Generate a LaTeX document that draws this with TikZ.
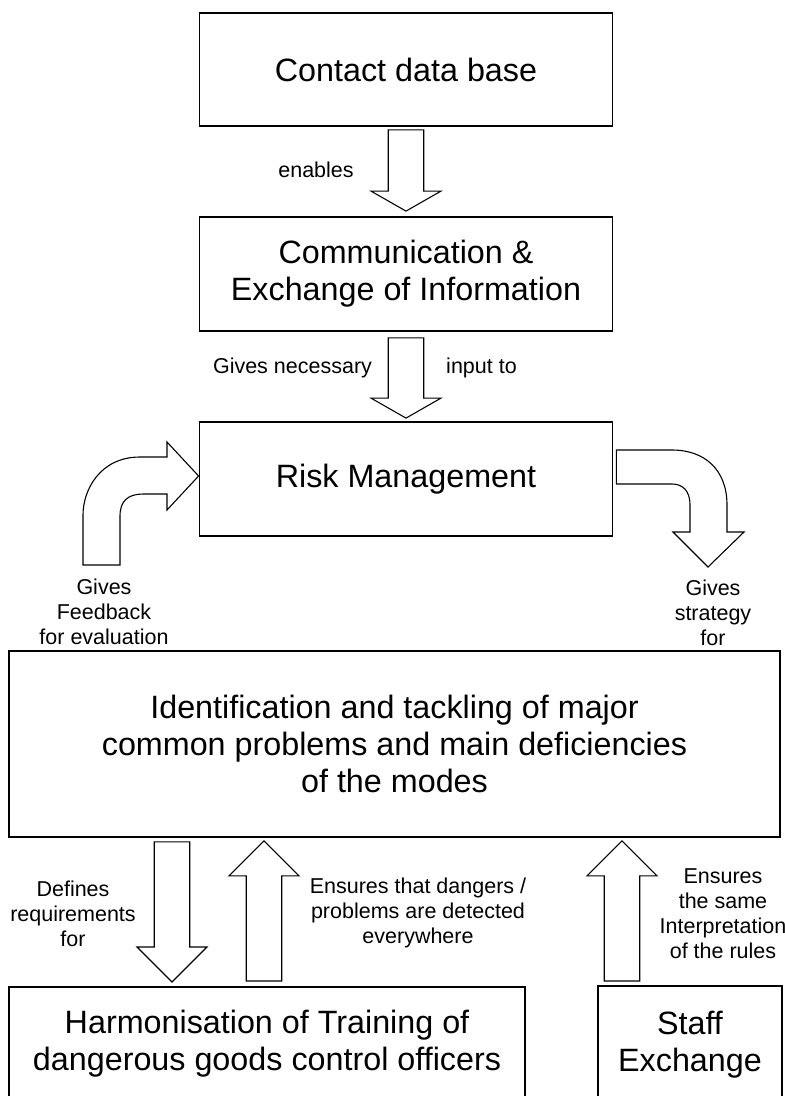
\documentclass[tikz,border=0pt]{standalone}
\usepackage{fontspec}
\setmainfont{Liberation Sans}
\usetikzlibrary{calc}
\tikzset{
  box/.style={draw, line width=1.8pt, align=center, font=\fontsize{32.3}{37}\selectfont},
  lbl/.style={align=center, inner sep=0pt, font=\fontsize{21.5}{25}\selectfont},
  fatline/.style={draw, line width=1.1pt, line join=miter},
}
% hollow block arrow: from, tip, signed head length
\newcommand{\fatarrow}[3]{%
  \draw[fatline] let \p1=(#1), \p2=(#2) in
    ({\x1-17.75pt},\y1) -- ({\x1-17.75pt},{\y2+(#3pt)}) -- ({\x1-35pt},{\y2+(#3pt)}) -- (\x1,\y2)
    -- ({\x1+35pt},{\y2+(#3pt)}) -- ({\x1+17.75pt},{\y2+(#3pt)}) -- ({\x1+17.75pt},\y1) -- cycle;}

\begin{document}
\begin{tikzpicture}[x=1pt,y=1pt]
\useasboundingbox (0,0) rectangle (785,-1096);
\clip (0,0) rectangle (785,-1096);

% boxes
\node[box, minimum width=413pt, minimum height=113pt] (contact) at (406,-69.5) {Contact data base};
\node[box, minimum width=413pt, minimum height=114pt] (comm) at (406,-274) {Communication \&\\Exchange of Information};
\node[box, minimum width=413pt, minimum height=114pt] (risk) at (406,-479) {Risk Management};
\node[box, minimum width=771pt, minimum height=186pt] (ident) at (394.5,-744) {Identification and tackling of major\\common problems and main deficiencies\\of the modes};
\node[box, anchor=north, minimum width=516pt, minimum height=114pt] (harm) at (267,-986) {Harmonisation of Training of\\dangerous goods control officers};
\node[box, anchor=north, minimum width=184pt, minimum height=118pt] (staff) at (690,-985) {Staff\\Exchange};

% straight arrows
\coordinate (enA) at ([yshift=-3pt]contact.south);
\coordinate (enB) at ([yshift=5pt]comm.north);
\fatarrow{enA}{enB}{20}
\coordinate (gvA) at ([yshift=-6pt]comm.south);
\coordinate (gvB) at ([yshift=3pt]risk.north);
\fatarrow{gvA}{gvB}{20}
\coordinate (defA) at ([xshift=-222.5pt,yshift=-4pt]ident.south);
\coordinate (defB) at ([xshift=-95pt,yshift=4pt]harm.north);
\fatarrow{defA}{defB}{35}
\coordinate (ensA) at ([xshift=-3pt,yshift=5pt]harm.north);
\coordinate (ensB) at ([xshift=-130.5pt,yshift=-3pt]ident.south);
\fatarrow{ensA}{ensB}{-35}
\coordinate (intA) at ([xshift=-68pt,yshift=4pt]staff.north);
\coordinate (intB) at ([xshift=227.5pt,yshift=-3pt]ident.south);
\fatarrow{intA}{intB}{-35}

% curved arrows
\draw[fatline] ([yshift=3pt]risk.west) -- (167,-510) -- (167,-494) -- (143,-494)
  .. controls (128,-494) and (120,-501) .. (120,-516) -- (120,-565) -- (83,-565) -- (83,-515)
  .. controls (83,-490) and (100,-457) .. (140,-457) -- (167,-457) -- (167,-442) -- cycle;
\draw[fatline] ([xshift=3pt,yshift=29pt]risk.east) -- (672,-450)
  .. controls (705,-450) and (727,-470) .. (727,-505) -- (727,-532) -- (744,-532) -- (708,-567)
  -- (673,-532) -- (690,-532) -- (690,-505) .. controls (690,-490) and (682,-484) .. (672,-484)
  -- ([xshift=3pt,yshift=-5pt]risk.east) -- cycle;

% labels
\node[lbl] (enables) at (316,-170) {enables};
\node[lbl] (gives) at (292.5,-368) {Gives necessary};
\node[lbl] (input) at (481.5,-368) {input to};
\node[lbl] (feedback) at (104,-612) {Gives\\Feedback\\for evaluation};
\node[lbl] (strategy) at (713,-613) {Gives\\strategy\\for};
\node[lbl] (defines) at (73,-914) {Defines\\requirements\\for};
\node[lbl] (ensures) at (418,-913) {Ensures that dangers /\\problems are detected\\everywhere};
\node[lbl] (same) at (723,-914) {Ensures\\the same\\Interpretation\\of the rules};
\end{tikzpicture}
\end{document}
